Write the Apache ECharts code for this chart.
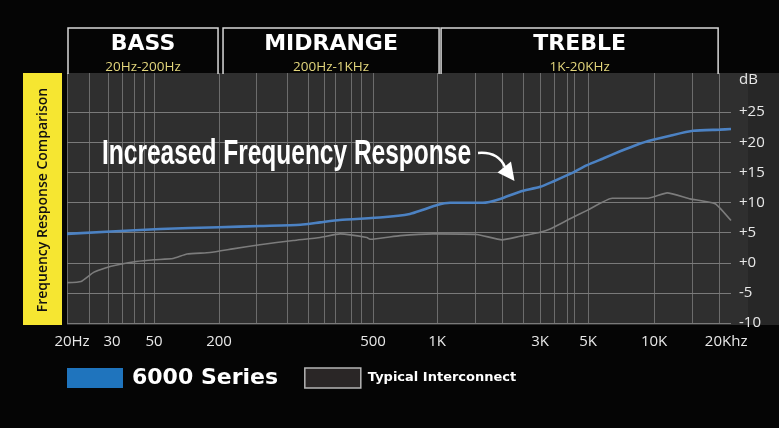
<!DOCTYPE html>
<html>
<head>
<meta charset="utf-8">
<script src="https://cdn.jsdelivr.net/npm/echarts@6/dist/echarts.min.js"></script>
<style>
html,body{margin:0;padding:0;background:#050505;}
#c{width:779px;height:428px;}
</style>
</head>
<body>
<div id="c"></div>
<script>
// ---- printed (non-uniform) frequency ruler ----
const tickFreqs  = [20, 30, 50, 200, 500, 1000, 3000, 5000, 10000, 20000];
const tickLabels = ['20Hz', '30', '50', '200', '500', '1K', '3K', '5K', '10K', '20Khz'];
const tickRuler  = [0, 41, 87, 152, 306, 370, 473, 521, 587, 652];   // ruler units of each labelled tick
const xMaxFreq   = 22700;
const minorGridFreqs = [25, 35, 40, 45, 250, 300, 340, 375, 400, 440, 465, 1500, 2000, 2500, 3500, 4000, 4300, 15000];

// ---- dB axis ----
const dbTicks = [-10, -5, 0, 5, 10, 15, 20, 25];
const dbMin = -10, dbMax = 31.5;

// ---- series ----
const seriesNames = ['6000 Series', 'Typical Interconnect'];
const series6000Freq = [20, 57, 200, 255, 325, 365, 410, 555, 745, 860, 1000, 1150, 1630, 1960, 2420, 3000, 3450, 4130, 4950, 5850, 7000, 8360, 9900, 11860, 15160, 20200, 22700];
const series6000Db   = [4.8, 5.6, 5.9, 6.1, 6.3, 6.7, 7.1, 7.55, 8.1, 8.8, 9.6, 9.95, 9.95, 10.6, 11.8, 12.6, 13.5, 14.75, 16.2, 17.3, 18.5, 19.6, 20.4, 21.1, 21.9, 22.1, 22.2];
const typicalFreq = [20, 23, 26, 29, 34, 41, 50, 75, 101, 165, 217, 255, 311, 365, 411, 482, 491, 670, 958, 1532, 2000, 2424, 3000, 3337, 4128, 4950, 6433, 9389, 11487, 14680, 19160, 22700];
const typicalDb   = [-3.3, -3.1, -1.6, -0.9, -0.3, 0.2, 0.5, 0.7, 1.45, 1.7, 2.3, 3.0, 3.7, 4.2, 4.8, 4.2, 3.9, 4.5, 4.8, 4.7, 3.8, 4.4, 5.05, 5.6, 7.3, 8.7, 10.7, 10.7, 11.6, 10.6, 9.8, 7.0];

// ---- bands / texts ----
const bandNames  = ['BASS', 'MIDRANGE', 'TREBLE'];
const bandRanges = ['20Hz-200Hz', '200Hz-1KHz', '1K-20KHz'];
const bandEdges  = [[20, 200], [200, 1000], [1000, 20000]];
const sideTitle  = 'Frequency Response Comparison';
const annotation = 'Increased Frequency Response';
const unitLabel  = 'dB';

// frequency -> ruler units (log interpolation between printed ticks)
function toU(f) {
  let i = 0;
  while (i < tickFreqs.length - 2 && f > tickFreqs[i + 1]) i++;
  const f0 = tickFreqs[i], f1 = tickFreqs[i + 1], u0 = tickRuler[i], u1 = tickRuler[i + 1];
  return u0 + (u1 - u0) * Math.log(f / f0) / Math.log(f1 / f0);
}

const xTickU = tickFreqs.map(toU);
const pairs = (fs, ds) => fs.map((f, i) => [toU(f), ds[i]]);

const AXFONT = "'Open Sans', 'DejaVu Sans', sans-serif";
const BOLDFONT = "'DejaVu Sans', sans-serif";
const labelShift = { '20Hz': 'a', '30': 'b', '20Khz': 'c' };
const richBase = { color: '#e8e8e8', fontSize: 15, fontFamily: AXFONT };

const vLines = tickFreqs.concat(minorGridFreqs).map(f => ({
  xAxis: toU(f), lineStyle: { color: '#6c6c6c', width: 1, type: 'solid' }
}));
const hLines = dbTicks.map(v => ({
  yAxis: v, lineStyle: { color: '#7a7a7a', width: 1, type: 'solid' }
}));

const chart = echarts.init(document.getElementById('c'));
chart.setOption({
  backgroundColor: '#050505',
  animation: false,
  grid: { left: 67, right: 48, top: 73, bottom: 105 },
  xAxis: {
    type: 'value', min: 0, max: toU(xMaxFreq),
    axisLine: { show: false }, axisTick: { show: false }, splitLine: { show: false },
    axisLabel: {
      customValues: xTickU, margin: 11, color: '#e8e8e8', fontSize: 15, fontFamily: AXFONT,
      formatter: v => {
        const i = xTickU.findIndex(u => Math.abs(u - v) < 1e-6);
        const t = i >= 0 ? tickLabels[i] : '';
        return labelShift[t] ? '{' + labelShift[t] + '|' + t + '}' : t;
      },
      rich: {
        a: Object.assign({ padding: [0, 0, 0, 10] }, richBase),
        b: Object.assign({ padding: [0, 0, 0, 8] }, richBase),
        c: Object.assign({ padding: [0, 0, 0, 14] }, richBase)
      }
    }
  },
  yAxis: [{
    type: 'value', position: 'right', min: dbMin, max: dbMax,
    axisLine: { show: false }, axisTick: { show: false }, splitLine: { show: false },
    axisLabel: {
      customValues: dbTicks, margin: 8, color: '#e8e8e8', fontSize: 15, fontFamily: AXFONT,
      formatter: v => (v >= 0 ? '+' : '') + v
    }
  }, {
    type: 'value', position: 'left', min: dbMin, max: dbMax,
    axisLine: { show: false }, axisLabel: { show: false }, splitLine: { show: false },
    axisTick: { show: true, inside: true, length: 7, customValues: dbTicks, lineStyle: { color: '#bdbdbd', width: 1 } }
  }],
  legend: {
    left: 67, top: 367, padding: 0, itemWidth: 56, itemHeight: 20, itemGap: 26, icon: 'rect',
    selectedMode: false,
    data: [
      { name: seriesNames[0], itemStyle: { color: '#1f74bd' },
        textStyle: { fontSize: 22, fontWeight: 'bold', fontFamily: BOLDFONT, color: '#ffffff', padding: [0, 0, 0, 4] } },
      { name: seriesNames[1], itemStyle: { color: '#2a2626', borderColor: '#b5b5b5', borderWidth: 1.5 },
        textStyle: { fontSize: 13, fontWeight: 'bold', fontFamily: BOLDFONT, color: '#ffffff', padding: [7, 0, 0, 2] } }
    ]
  },
  series: [{
    name: seriesNames[1], type: 'line', z: 3, data: pairs(typicalFreq, typicalDb),
    showSymbol: false, smooth: 0.15, silent: true,
    lineStyle: { color: '#7c7c7c', width: 1.6 }, itemStyle: { color: '#7c7c7c' },
    markLine: { silent: true, z: 1, symbol: ['none', 'none'], label: { show: false }, animation: false,
      data: vLines.concat(hLines) }
  }, {
    name: seriesNames[0], type: 'line', z: 4, data: pairs(series6000Freq, series6000Db),
    showSymbol: false, smooth: 0.2, silent: true,
    lineStyle: { color: '#4c82c3', width: 2.6 }, itemStyle: { color: '#4c82c3' }
  }]
});

// ---- decorations derived from axis ----
const px = f => chart.convertToPixel({ xAxisIndex: 0 }, toU(f));
const els = [
  { type: 'rect', z: -10, silent: true, shape: { x: 67, y: 73, width: 681, height: 252 }, style: { fill: '#2f2f2f' } },
  { type: 'rect', z: -10, silent: true, shape: { x: 748, y: 73, width: 31, height: 252 }, style: { fill: '#272727' } },
  { type: 'rect', z: 1, silent: true, shape: { x: 23, y: 73, width: 39, height: 252 }, style: { fill: '#f6e631' } },
  { type: 'text', z: 2, silent: true, x: 43, y: 200, rotation: Math.PI / 2,
    style: { text: sideTitle, x: 0, y: 0, fill: '#111', font: "600 14px 'Open Sans', sans-serif", textAlign: 'center', textVerticalAlign: 'middle' } },
  { type: 'text', z: 2, silent: true, x: 739, y: 80,
    style: { text: unitLabel, x: 0, y: 0, fill: '#e8e8e8', font: "15px 'Open Sans', sans-serif", textAlign: 'left', textVerticalAlign: 'middle' } },
  { type: 'text', z: 10, silent: true, x: 102, y: 154, scaleX: 0.7,
    style: { text: annotation, x: 0, y: 0, fill: '#ffffff', font: "bold 35px 'Liberation Sans', Arial, sans-serif", textAlign: 'left', textVerticalAlign: 'middle' } },
  { type: 'bezierCurve', z: 10, silent: true,
    shape: { x1: 478, y1: 153, cpx1: 490, cpy1: 152, cpx2: 500, cpy2: 156, x2: 505, y2: 167 },
    style: { stroke: '#ffffff', lineWidth: 2.5, fill: null } },
  { type: 'polygon', z: 10, silent: true, shape: { points: [[497.5, 172.5], [511, 161.5], [514.5, 181]] }, style: { fill: '#ffffff' } }
];
bandNames.forEach((name, i) => {
  const l = px(bandEdges[i][0]) + (i === 0 ? 1 : 4);
  const r = px(bandEdges[i][1]) + (i === 1 ? 2 : -1);
  els.push({ type: 'polyline', z: 1, silent: true, shape: { points: [[l, 74], [l, 28], [r, 28], [r, 74]] },
    style: { stroke: '#d8d8d8', lineWidth: 1.5, fill: null } });
  els.push({ type: 'text', z: 2, silent: true, x: (l + r) / 2, y: 44,
    style: { text: name, x: 0, y: 0, fill: '#ffffff', font: "bold 22px 'DejaVu Sans', sans-serif", textAlign: 'center', textVerticalAlign: 'middle' } });
  els.push({ type: 'text', z: 2, silent: true, x: (l + r) / 2, y: 67,
    style: { text: bandRanges[i], x: 0, y: 0, fill: '#e3d67c', font: "13.5px 'Open Sans', sans-serif", textAlign: 'center', textVerticalAlign: 'middle' } });
});
chart.setOption({ graphic: { elements: els } });
</script>
</body>
</html>
